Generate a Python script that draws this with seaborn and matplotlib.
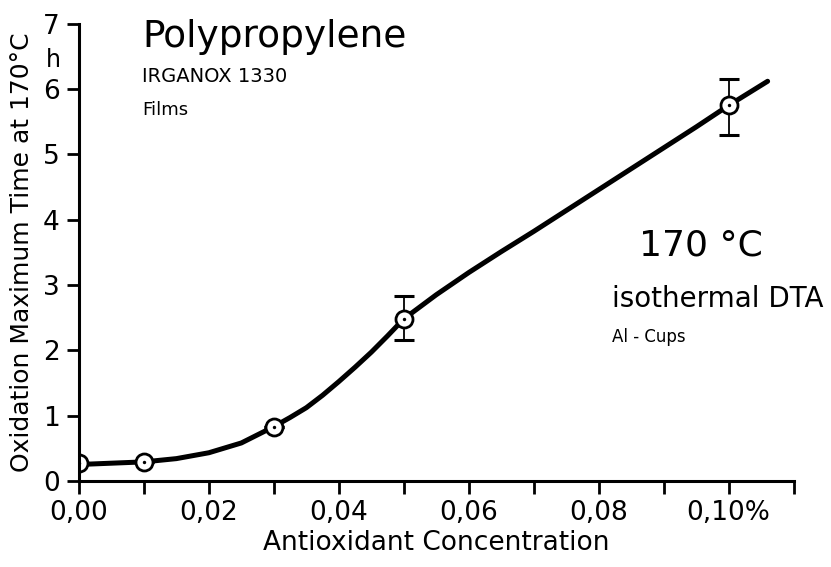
import matplotlib
matplotlib.use("Agg")
import matplotlib.pyplot as plt
import seaborn as sns
import pandas as pd

# measured points (concentration %, time h)
conc = [0.0, 0.01, 0.03, 0.05, 0.10]
time_h = [0.27, 0.29, 0.83, 2.48, 5.75]
err_low = [0.0, 0.0, 0.0, 0.33, 0.45]
err_high = [0.0, 0.0, 0.0, 0.35, 0.40]

# hand-drawn smooth curve
curve_x = [0.0, 0.005, 0.01, 0.015, 0.02, 0.025, 0.03, 0.0325, 0.035, 0.0375,
           0.04, 0.0425, 0.045, 0.0475, 0.05, 0.055, 0.06, 0.065, 0.07, 0.075,
           0.08, 0.085, 0.09, 0.095, 0.10, 0.106]
curve_y = [0.25, 0.27, 0.29, 0.34, 0.43, 0.58, 0.83, 0.97, 1.12, 1.31,
           1.52, 1.74, 1.97, 2.22, 2.48, 2.85, 3.19, 3.51, 3.82, 4.14,
           4.46, 4.78, 5.10, 5.42, 5.75, 6.12]

x_ticks = [0.0, 0.02, 0.04, 0.06, 0.08, 0.10]
x_tick_labels = ["0,00", "0,02", "0,04", "0,06", "0,08", "0,10%"]
minor_ticks = [0.01, 0.03, 0.05, 0.07, 0.09, 0.11]
y_ticks = [0, 1, 2, 3, 4, 5, 6, 7]

sns.set_style("ticks", {"axes.edgecolor": "black", "text.color": "black",
                        "xtick.color": "black", "ytick.color": "black",
                        "axes.labelcolor": "black"})
plt.rcParams["font.family"] = ["DejaVu Sans"]

fig = plt.figure(figsize=(8.31, 5.67), dpi=100)
ax = fig.add_axes([0.095, 0.152, 0.86, 0.806])

curve = pd.DataFrame({"x": curve_x, "y": curve_y})
pts = pd.DataFrame({"x": conc, "y": time_h})

sns.lineplot(data=curve, x="x", y="y", ax=ax, color="black", linewidth=3.6,
             solid_capstyle="round", solid_joinstyle="round", sort=True)
ax.errorbar(conc, time_h, yerr=[err_low, err_high], fmt="none", ecolor="black",
            elinewidth=1.3, capsize=7, capthick=2.2, zorder=3)
sns.scatterplot(data=pts, x="x", y="y", ax=ax, s=150, color="white",
                edgecolor="black", linewidth=2, zorder=4)
sns.scatterplot(data=pts, x="x", y="y", ax=ax, s=6, color="black",
                edgecolor="black", linewidth=0, zorder=5)

ax.set_xlim(0, 0.11)
ax.set_ylim(0, 7)
ax.set_xticks(x_ticks)
ax.set_xticklabels(x_tick_labels)
ax.set_xticks(minor_ticks, minor=True)
ax.set_yticks(y_ticks)
ax.tick_params(axis="both", which="major", direction="out", length=9,
               width=2, labelsize=19, pad=5, colors="black")
ax.tick_params(axis="x", which="minor", direction="out", length=9, width=2,
               colors="black")
for side in ["left", "bottom"]:
    ax.spines[side].set_linewidth(2.2)
    ax.spines[side].set_color("black")
    ax.spines[side].set_zorder(6)
sns.despine(ax=ax)

ax.set_xlabel("Antioxidant Concentration", fontsize=19, labelpad=3,
              color="black")
ax.set_ylabel("Oxidation Maximum Time at 170°C", fontsize=18, labelpad=6,
              color="black")

ax.text(-0.0040, 6.45, "h", fontsize=17, ha="center", va="center")
ax.text(0.0097, 6.8, "Polypropylene", fontsize=27, ha="left", va="center")
ax.text(0.0097, 6.2, "IRGANOX 1330", fontsize=14, ha="left", va="center")
ax.text(0.0097, 5.68, "Films", fontsize=13, ha="left", va="center")
ax.text(0.0862, 3.6, "170 °C", fontsize=26, ha="left", va="center")
ax.text(0.0820, 2.78, "isothermal DTA", fontsize=20, ha="left", va="center")
ax.text(0.0820, 2.2, "Al - Cups", fontsize=12, ha="left", va="center")

fig.savefig("out.png", dpi=100)
plt.close(fig)
